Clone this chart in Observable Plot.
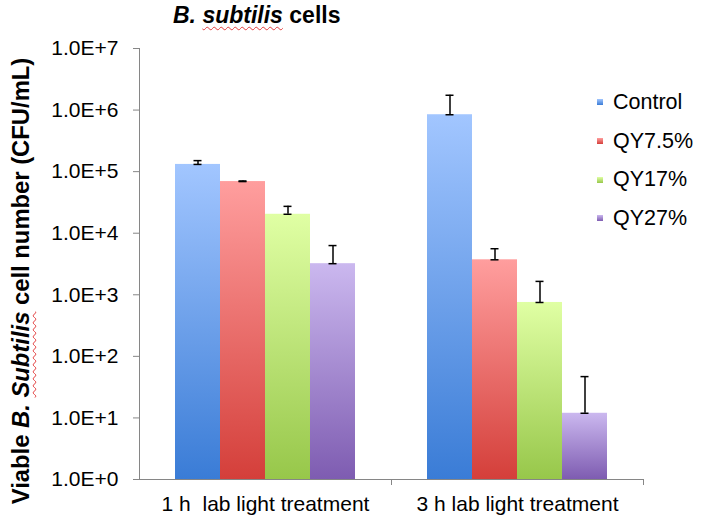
<!DOCTYPE html>
<html><head><meta charset="utf-8">
<script src="https://cdn.jsdelivr.net/npm/d3@7"></script>
<script src="https://cdn.jsdelivr.net/npm/@observablehq/plot@0.6"></script>
<style>
html,body{margin:0;padding:0;background:#fff;}
#wrap{position:relative;width:701px;height:520px;font-family:"Liberation Sans",Arial,sans-serif;color:#000;overflow:hidden;background:#fff}
#wrap svg{position:absolute;left:0;top:0}
#wrap svg text{white-space:pre}
.title{position:absolute;left:173px;top:4px;font-weight:bold;font-size:23px;line-height:23px;white-space:nowrap}
.ylab{position:absolute;left:-229px;top:268px;width:500px;height:26px;line-height:26px;text-align:center;font-weight:bold;font-size:23.8px;white-space:nowrap;transform:rotate(-90deg);transform-origin:50% 50%}
.wavy{text-decoration:underline wavy #e23c3c;text-decoration-thickness:1px;text-underline-offset:3px}
.legend{position:absolute;left:597px;top:83px}
.legend .row{display:flex;align-items:center;height:38.7px;font-size:21.5px;white-space:nowrap}
.legend .sw{width:6px;height:6px;margin-right:10px}
</style></head><body><div id="wrap"></div>
<script>
// ---- data ----
const groups = ["1 h  lab light treatment", "3 h lab light treatment"];
const series = ["Control", "QY7.5%", "QY17%", "QY27%"];
const values1h = [1.31e5, 6.9e4, 2.03e4, 3.2e3];
const errors1h = [2.0e4, 1.5e3, 7.0e3, 3.1e3];
const values3h = [8.4e5, 3.7e3, 7.5e2, 11.9];
const errors3h = [9.0e5, 1.9e3, 9.0e2, 35];
const yTicks = [1, 10, 100, 1e3, 1e4, 1e5, 1e6, 1e7];
const yTickLabels = ["1.0E+0", "1.0E+1", "1.0E+2", "1.0E+3", "1.0E+4", "1.0E+5", "1.0E+6", "1.0E+7"];
const titleText = ["B. ", "subtilis", " cells"];
const yLabelParts = ["Viable ", "B. ", "Subtilis", " cell number (CFU/mL)"];

// ---- styles ----
const gradTop = ["#a2c6ff", "#ff9e9e", "#e0ffa4", "#cbb8ef"];
const gradBottom = ["#3a7cd6", "#d43f3a", "#97c74a", "#7e5cb1"];
const axisGray = "#868686";

const valuesByGroup = [values1h, values3h];
const errorsByGroup = [errors1h, errors3h];
const rows = groups.flatMap((g, gi) => series.map((s, si) => ({
  group: g, series: s, value: valuesByGroup[gi][si], hi: valuesByGroup[gi][si] + errorsByGroup[gi][si]
})));
const yDomain = [yTicks[0], yTicks[yTicks.length - 1]];

const plot = Plot.plot({
  width: 701, height: 520,
  marginTop: 48, marginBottom: 41, marginLeft: 139, marginRight: 58,
  style: {fontFamily: '"Liberation Sans", Arial, sans-serif', fontSize: "21px", color: "#000", background: "transparent", overflow: "visible"},
  fx: {domain: groups, padding: 0, label: null, axis: "bottom", tickSize: 0, tickPadding: 17},
  x: {domain: series, paddingInner: 0, paddingOuter: 0.75, axis: null},
  y: {type: "log", domain: yDomain, ticks: yTicks, tickFormat: d => { const i = yTicks.indexOf(d); return i >= 0 ? yTickLabels[i] : ""; }, tickSize: 6, tickPadding: 15, label: null},
  color: {domain: series, range: series.map((s, i) => `url(#grad${i})`)},
  marks: [
    Plot.barY(rows, {fx: "group", x: "series", y1: () => yDomain[0], y2: "value", fill: "series"}),
    Plot.ruleY([yDomain[0]], {stroke: axisGray, strokeWidth: 1}),
    Plot.ruleX(rows, {fx: "group", x: "series", y1: "value", y2: "hi", stroke: "#000", strokeWidth: 1.5}),
    Plot.tickY(rows, {fx: "group", x: "series", y: "hi", stroke: "#000", strokeWidth: 1.5, insetLeft: 18.5, insetRight: 18.5}),
    Plot.tickY(rows, {fx: "group", x: "series", y: "value", stroke: "#000", strokeWidth: 1.5, insetLeft: 18.5, insetRight: 18.5})
  ]
});

const svg = d3.select(plot);
const defs = svg.insert("defs", ":first-child");
series.forEach((s, i) => {
  const lg = defs.append("linearGradient").attr("id", `grad${i}`).attr("x1", 0).attr("y1", 0).attr("x2", 0).attr("y2", 1);
  lg.append("stop").attr("offset", "0%").attr("stop-color", gradTop[i]);
  lg.append("stop").attr("offset", "100%").attr("stop-color", gradBottom[i]);
});

// gray axis tick lines
svg.selectAll('[aria-label^="y-axis"] path, [aria-label^="y-axis"] line').attr("stroke", axisGray);

// y axis line and group separator ticks, from the library's scales
const ys = plot.scale("y");
const fxs = plot.scale("fx");
const x0 = fxs && fxs.range ? fxs.range[0] : 139;
const step = fxs && fxs.step ? fxs.step : (fxs && fxs.range ? (fxs.range[1] - fxs.range[0]) / groups.length : 252);
const yBottom = ys.range[0], yTop = ys.range[1];
const axisG = svg.append("g").attr("stroke", axisGray).attr("stroke-width", 1);
axisG.append("line").attr("x1", x0 + 0.5).attr("x2", x0 + 0.5).attr("y1", yTop).attr("y2", yBottom + 0.5);
groups.forEach((g, i) => {
  const xx = Math.round(x0 + step * (i + 1)) + 0.5;
  axisG.append("line").attr("x1", xx).attr("x2", xx).attr("y1", yBottom).attr("y2", yBottom + 6);
});

const wrap = document.getElementById("wrap");
wrap.appendChild(plot);

// title
const title = document.createElement("div");
title.className = "title";
title.innerHTML = `<i>${titleText[0]}<span class="wavy">${titleText[1]}</span></i>${titleText[2]}`;
wrap.appendChild(title);

// y label
const ylab = document.createElement("div");
ylab.className = "ylab";
ylab.innerHTML = `${yLabelParts[0]}<i>${yLabelParts[1]}<span class="wavy">${yLabelParts[2]}</span></i>${yLabelParts[3]}`;
wrap.appendChild(ylab);

// legend
const legend = document.createElement("div");
legend.className = "legend";
series.forEach((s, i) => {
  const row = document.createElement("div");
  row.className = "row";
  const sw = document.createElement("span");
  sw.className = "sw";
  sw.style.background = `linear-gradient(${gradTop[i]}, ${gradBottom[i]})`;
  const t = document.createElement("span");
  t.textContent = s;
  row.appendChild(sw); row.appendChild(t);
  legend.appendChild(row);
});
wrap.appendChild(legend);
</script></body></html>
